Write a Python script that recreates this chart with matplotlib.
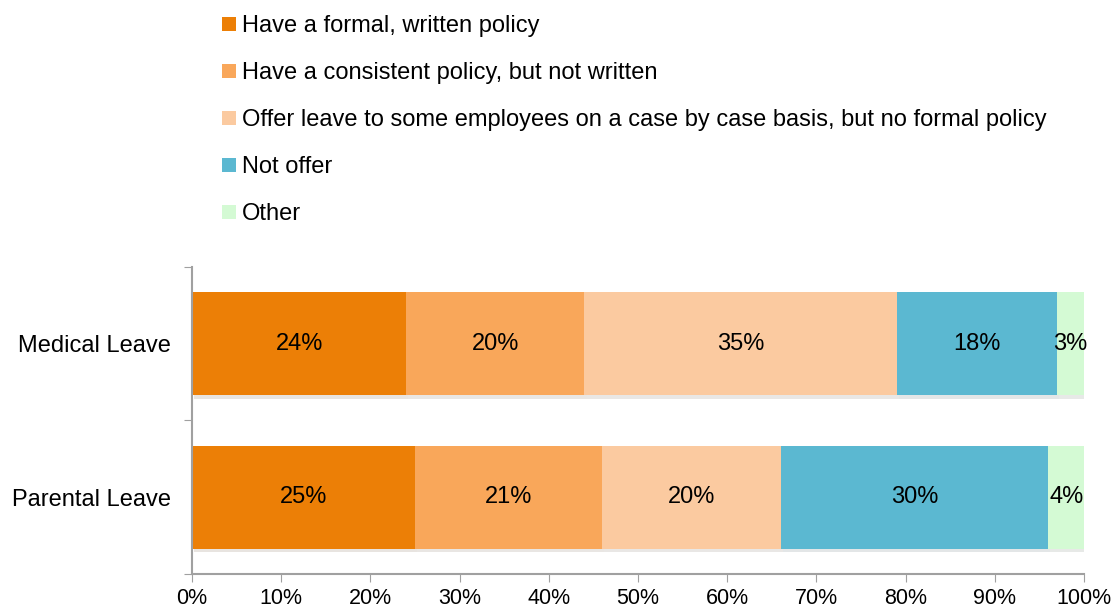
import matplotlib

matplotlib.use("Agg")
import matplotlib.pyplot as plt
import matplotlib.patheffects as pe
from matplotlib.patches import Patch
import numpy as np

categories = ["Medical Leave", "Parental Leave"]
series = [
    "Have a formal, written policy",
    "Have a consistent policy, but not written",
    "Offer leave to some employees on a case by case basis, but no formal policy",
    "Not offer",
    "Other",
]
values = [
    [24, 25],
    [20, 21],
    [35, 20],
    [18, 30],
    [3, 4],
]
colors = ["#EC7F06", "#F9A75A", "#FBCAA0", "#5BB8D1", "#D4FAD4"]
x_ticks = [0, 10, 20, 30, 40, 50, 60, 70, 80, 90, 100]

plt.rcParams["font.family"] = ["Liberation Sans", "DejaVu Sans"]

fig = plt.figure(figsize=(11.12, 6.11), dpi=100)
ax = fig.add_axes([0.1727, 0.0606, 0.8021, 0.5024])

y = np.arange(len(categories))
left = np.zeros(len(categories))
shadow = [pe.SimplePatchShadow(offset=(1.5, -2.5), alpha=0.12), pe.Normal()]
for name, vals, col in zip(series, values, colors):
    vals = np.asarray(vals, dtype=float)
    bars = ax.barh(y, vals, left=left, height=0.67, color=col, label=name,
                   path_effects=shadow)
    for b, v in zip(bars, vals):
        ax.text(b.get_x() + b.get_width() / 2, b.get_y() + b.get_height() / 2,
                f"{v:.0f}%", ha="center", va="center", fontsize=17)
    left += vals

ax.set_xlim(0, 100)
ax.set_ylim(1.5, -0.5)
ax.set_xticks(x_ticks)
ax.set_xticklabels([f"{t}%" for t in x_ticks], fontsize=15.5)
ax.set_yticks([-0.5, 0.5, 1.5])
ax.set_yticklabels([])
ax.set_yticks(y, minor=True)
ax.set_yticklabels(categories, minor=True, fontsize=17)
ax.tick_params(axis="y", which="minor", length=0, pad=15)
ax.tick_params(axis="both", which="major", length=6, color="#A0A0A0")
ax.tick_params(axis="x", pad=4)
for side in ("top", "right"):
    ax.spines[side].set_visible(False)
for side in ("left", "bottom"):
    ax.spines[side].set_color("#A0A0A0")
    ax.spines[side].set_linewidth(1.5)

handles = [Patch(facecolor=c, edgecolor="none") for c in colors]
fig.legend(handles, series, loc="upper left", bbox_to_anchor=(0.186, 1.0),
           frameon=False, fontsize=17, handlelength=0.57, handleheight=0.57,
           handletextpad=0.25, labelspacing=1.06, borderaxespad=0.25)

fig.savefig("out.png", dpi=100)
